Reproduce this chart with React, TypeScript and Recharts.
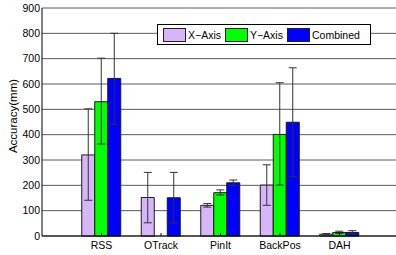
import React from 'react';
import {
  BarChart,
  Bar,
  XAxis,
  YAxis,
  CartesianGrid,
  ErrorBar
} from 'recharts';

const categories = ['RSS', 'OTrack', 'PinIt', 'BackPos', 'DAH'];

// mean values (mm)
const xAxisVals = [320, 152, 121, 201, 7];
const yAxisVals = [530, 0, 171, 401, 14];
const combinedVals = [622, 151, 210, 449, 14];

// error bar bounds (low / high, mm)
const xAxisLow = [141, 52, 114, 121, 4];
const xAxisHigh = [502, 251, 128, 281, 10];
const yAxisLow = [363, 0, 162, 201, 10];
const yAxisHigh = [702, 0, 182, 605, 19];
const combinedLow = [441, 52, 199, 234, 8];
const combinedHigh = [800, 251, 221, 664, 21];

const yTicks = [0, 100, 200, 300, 400, 500, 600, 700, 800, 900];

const series = [
  { key: 'xAxis', name: 'X\u2212Axis', color: '#D6B6F8' },
  { key: 'yAxis', name: 'Y\u2212Axis', color: '#00FF00' },
  { key: 'combined', name: 'Combined', color: '#0000FF' }
];

const data = categories.map((name, i) => ({
  name,
  xAxis: xAxisVals[i],
  xAxisErr: [xAxisVals[i] - xAxisLow[i], xAxisHigh[i] - xAxisVals[i]],
  yAxis: yAxisVals[i],
  yAxisErr: [yAxisVals[i] - yAxisLow[i], yAxisHigh[i] - yAxisVals[i]],
  combined: combinedVals[i],
  combinedErr: [combinedVals[i] - combinedLow[i], combinedHigh[i] - combinedVals[i]]
}));

const FONT = '"Liberation Sans", Arial, sans-serif';

const BottomTick = (props: any) => {
  const { x, y, payload } = props;
  return (
    <g>
      <line x1={x} x2={x} y1={y} y2={y - 3} stroke="#000" />
      <text x={x} y={y + 13} textAnchor="middle" fill="#000" fontSize={10.5} fontFamily={FONT}>
        {payload.value}
      </text>
    </g>
  );
};

const TopTick = (props: any) => {
  const { x, y } = props;
  return <line x1={x} x2={x} y1={y} y2={y + 3} stroke="#000" />;
};

export default function App() {
  return (
    <div style={{ position: 'absolute', left: 0, top: 0, width: 396, height: 255, overflow: 'hidden', background: '#fff' }}>
      <BarChart
        width={400}
        height={255}
        data={data}
        margin={{ top: 8, right: 1, bottom: 2, left: 0 }}
        barSize={13}
        barGap={0}
      >
        <CartesianGrid vertical={false} stroke="#5a5a5a" />
        <XAxis
          dataKey="name"
          padding={{ left: 29.75, right: 29.75 }}
          height={17}
          tickSize={0}
          tickMargin={0}
          tick={<BottomTick />}
          axisLine={{ stroke: '#000' }}
          interval={0}
        />
        <XAxis
          xAxisId="top"
          dataKey="name"
          orientation="top"
          padding={{ left: 29.75, right: 29.75 }}
          height={0}
          tickSize={0}
          tickMargin={0}
          tick={<TopTick />}
          axisLine={{ stroke: '#000' }}
          interval={0}
        />
        <YAxis
          width={42}
          domain={[0, 900]}
          ticks={yTicks}
          interval={0}
          tickSize={0}
          tickMargin={2}
          axisLine={{ stroke: '#000' }}
          tick={{ fill: '#000', fontSize: 10.5, fontFamily: FONT }}
          label={{
            content: () => (
              <text
                x={13}
                y={116}
                transform="rotate(-90 13 116)"
                textAnchor="middle"
                dominantBaseline="central"
                fill="#000"
                fontSize={11.5}
                fontFamily={FONT}
              >
                Accuracy(mm)
              </text>
            )
          }}
        />
        {series.map((s) => (
          <Bar
            key={s.key}
            dataKey={s.key}
            name={s.name}
            fill={s.color}
            stroke="#1a1a1a"
            strokeWidth={1}
            isAnimationActive={false}
          >
            <ErrorBar dataKey={`${s.key}Err`} width={4} stroke="#333" strokeWidth={1} direction="y" />
          </Bar>
        ))}
      </BarChart>
      <div
        style={{
          position: 'absolute',
          left: 157,
          top: 24,
          width: 214,
          height: 21,
          boxSizing: 'border-box',
          border: '1px solid #000',
          background: '#fff',
          display: 'flex',
          alignItems: 'center',
          paddingLeft: 5,
          fontFamily: FONT,
          fontSize: 10.5,
          color: '#000'
        }}
      >
        {series.map((s) => (
          <div key={s.key} style={{ display: 'flex', alignItems: 'center', marginRight: 4 }}>
            <span
              style={{
                display: 'inline-block',
                width: 23,
                height: 14,
                boxSizing: 'border-box',
                border: '1px solid #222',
                background: s.color,
                marginRight: 2
              }}
            />
            <span>{s.name}</span>
          </div>
        ))}
      </div>
    </div>
  );
}
